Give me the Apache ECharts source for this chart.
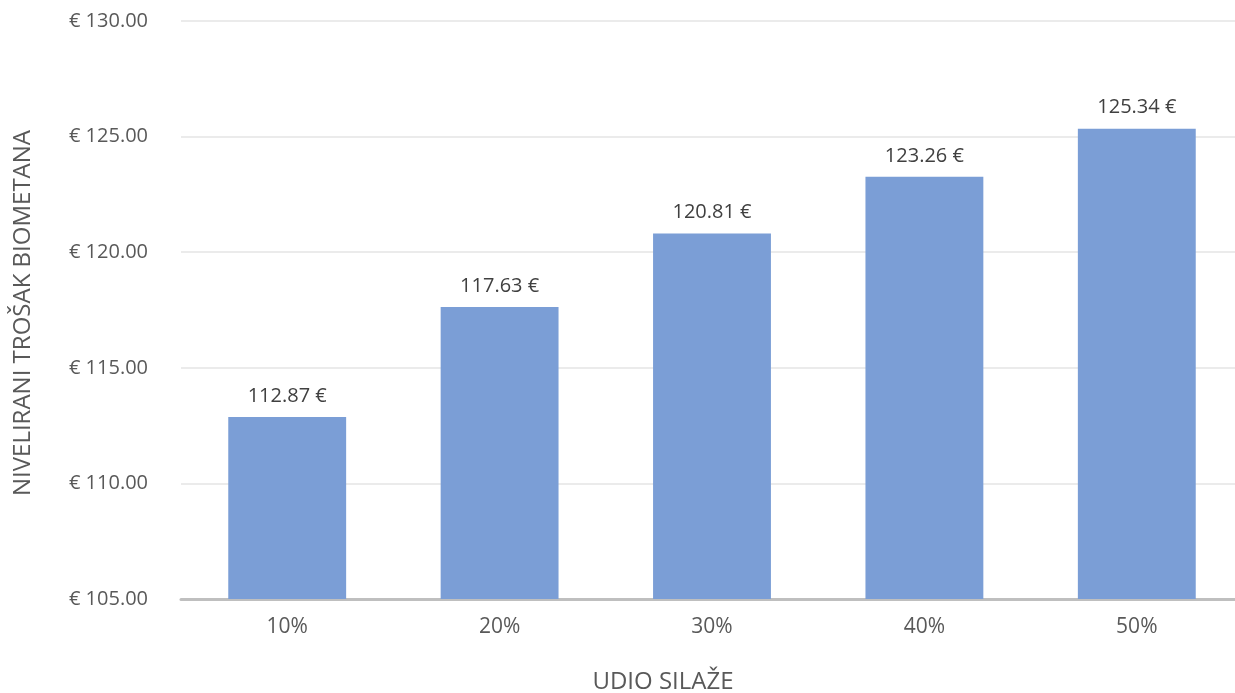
<!DOCTYPE html>
<html>
<head>
<meta charset="utf-8">
<script src="https://cdn.jsdelivr.net/npm/echarts@6/dist/echarts.min.js"></script>
<style>
  html, body { margin: 0; padding: 0; background: #ffffff; overflow: hidden; }
  #chart { width: 1243px; height: 693px; }
</style>
</head>
<body>
<div id="chart"></div>
<script>
// Share of silage in the feedstock and the resulting levelised biomethane cost
const categories = ['10%', '20%', '30%', '40%', '50%'];
const costValues = [112.87, 117.63, 120.81, 123.26, 125.34];
const yMin = 105;
const yMax = 130;
const yStep = 5;

const textColor = '#595959';
const fontFamily = '"Open Sans", "Noto Sans", "Liberation Sans", sans-serif';

const chart = echarts.init(document.getElementById('chart'), null, { renderer: 'canvas' });

chart.setOption({
  animation: false,
  backgroundColor: '#ffffff',
  grid: { left: 181, top: 21, right: 0, bottom: 94, containLabel: false },
  xAxis: {
    type: 'category',
    data: categories,
    axisLine: { lineStyle: { color: '#bfbfbf', width: 3 } },
    axisTick: { show: false },
    axisLabel: { color: textColor, fontSize: 21, fontFamily: fontFamily, margin: 18 }
  },
  yAxis: {
    type: 'value',
    min: yMin,
    max: yMax,
    interval: yStep,
    axisLine: { show: false },
    axisTick: { show: false },
    splitLine: { lineStyle: { color: '#ebebeb', width: 2 } },
    axisLabel: {
      color: textColor,
      fontSize: 20,
      fontFamily: fontFamily,
      margin: 33,
      formatter: v => '€ ' + v.toFixed(2)
    }
  },
  graphic: [
    {
      type: 'text',
      x: 663,
      y: 682,
      style: {
        text: 'UDIO SILAŽE',
        fill: textColor,
        font: '24px ' + fontFamily,
        align: 'center',
        verticalAlign: 'middle'
      }
    },
    {
      type: 'text',
      x: 23,
      y: 313,
      rotation: Math.PI / 2,
      style: {
        text: 'NIVELIRANI TROŠAK BIOMETANA',
        fill: textColor,
        font: '24px ' + fontFamily,
        align: 'center',
        verticalAlign: 'middle'
      }
    }
  ],
  series: [
    {
      type: 'bar',
      data: costValues,
      barWidth: '55.5%',
      itemStyle: { color: '#7b9ed6' },
      label: {
        show: true,
        position: 'top',
        distance: 11,
        color: '#404040',
        fontSize: 20,
        fontFamily: fontFamily,
        formatter: p => p.value.toFixed(2) + ' €'
      }
    }
  ]
});
</script>
</body>
</html>
